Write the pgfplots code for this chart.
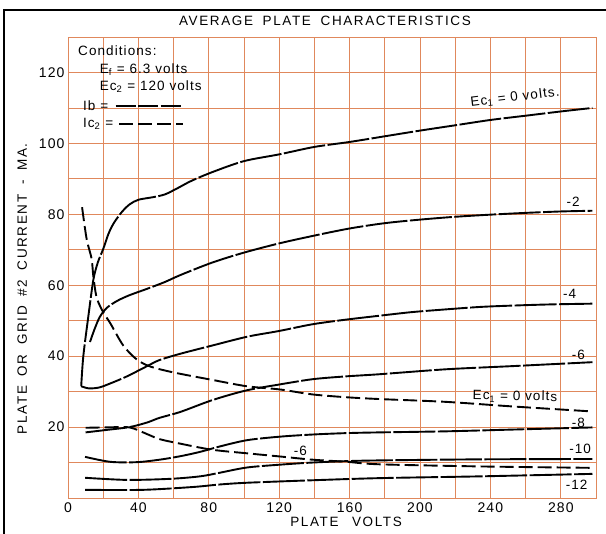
\documentclass[border=0pt]{standalone}
\usepackage{fontspec}
\setmainfont{Liberation Sans}
\newfontfamily\lett[LetterSpace=8]{Liberation Sans}
\newfontfamily\wide[LetterSpace=12,WordSpace=1.8]{Liberation Sans}
\usepackage{pgfplots}
\pgfplotsset{compat=1.18}
\definecolor{gridor}{RGB}{224,136,92}

\pgfplotstableread{
x y
7.5 31.5
8.7 40
11.5 51
14.4 61.5
17 66.5
20 70.2
23 74.5
26 77.5
30.5 80.6
35 82.8
40 84.1
48 84.8
55 85.6
62 87.3
70 89.4
82 91.9
100 95
120 96.9
140 99
160 100.4
180 102
200 103.6
220 105.1
240 106.6
260 107.8
280 109
298 110
}\ibzero

\pgfplotstableread{
x y
12.5 44
15 47.5
18 51
22 53.6
28 55.6
35 57.2
45 59
55 60.9
64 62.9
82 66.4
100 69.2
120 71.8
140 74
160 76
180 77.5
200 78.5
220 79.3
240 79.9
260 80.4
280 80.8
298 81
}\ibtwo

\pgfplotstableread{
x y
7.5 31.5
12 30.9
18 31.2
25 32.5
33.5 34.3
45 37.2
52 38.9
64 40.7
82 43
102 45.5
120 47.1
139 49
158 50.3
177 51.4
195 52.4
215 53.2
235 53.9
255 54.3
275 54.6
298 54.8
}\ibfour

\pgfplotstableread{
x y
10 18.5
22 19.2
35 20
45 21.3
52 22.6
64 24.3
82 27.6
101 30.3
120 32
139 33.5
158 34.3
177 34.9
215 36.3
253 37.2
298 38.3
}\ibsix

\pgfplotstableread{
x y
9.7 11.6
24 10.2
39 10.1
52 10.8
64 11.8
75 13
86 14.5
101.7 16.3
120.5 17.3
139 17.9
158.5 18.3
177 18.5
215 18.8
253 19.3
298 19.9
}\ibeight

\pgfplotstableread{
x y
9.7 5.7
33.5 5.1
58 5.4
75 6.1
86 7.1
101.7 8.6
120.5 9.4
139 10
158.5 10.4
177 10.6
234 10.9
298 11
}\ibten

\pgfplotstableread{
x y
9.7 2.3
42.6 2.3
71 3.1
86 3.8
101.7 4.3
139 5
177 5.6
234 6.1
298 6.8
}\ibtwelve

\pgfplotstableread{
x y
8 82
10.6 73
13.4 67.5
14.4 62.5
16.3 56.5
20 52.4
24 49.3
31.4 43
39 39.1
46.6 37.1
60 35.4
82 33.3
101.7 31.5
120.5 30.6
139 29.2
158.5 28.4
177 27.9
215 27.1
253 25.8
298 24.4
}\iczero

\pgfplotstableread{
x y
10 19.8
22 19.9
35 19.9
45 18
52 16.6
64 15.3
82 13.6
101.7 12.6
120.5 11.7
139 10.8
158.5 10.2
177 9.5
234 8.9
298 8.5
}\icsix

\begin{document}
\begin{tikzpicture}
\useasboundingbox (-68pt,-36pt) rectangle (538pt,498pt);
\draw[black, line width=1.2pt] (-64pt,-36pt) -- (-64pt,488pt) -- (538pt,488pt);
\begin{axis}[
  scale only axis, width=528pt, height=461pt,
  at={(0pt,0pt)}, anchor=south west,
  xmin=0, xmax=300, ymin=0, ymax=130,
  xtick={0,40,...,280}, ytick={20,40,...,120},
  minor xtick={20,60,...,300}, minor ytick={10,30,...,130},
  grid=both,
  major grid style={gridor, line width=0.8pt},
  minor grid style={gridor, line width=0.8pt},
  axis line style={gridor, line width=0.9pt},
  major tick length=0pt, minor tick length=0pt,
  /pgf/number format/assume math mode=true,
  ticklabel style={font=\lett\fontsize{14}{16}\selectfont},
  xticklabel style={yshift=-1pt},
  clip=false,
  ib/.style={black, line width=1.9pt, smooth, tension=0.5, no marks, dash pattern=on 42pt off 2.5pt},
  ic/.style={black, line width=1.9pt, smooth, tension=0.5, no marks, dash pattern=on 14pt off 5pt},
]
\addplot[ib] table {\ibzero};
\addplot[ib] table {\ibtwo};
\addplot[ib] table {\ibfour};
\addplot[ib] table {\ibsix};
\addplot[ib] table {\ibeight};
\addplot[ib] table {\ibten};
\addplot[ib] table {\ibtwelve};
\addplot[ic] table {\iczero};
\addplot[ic] table {\icsix};

% title and axis labels
\node[font=\wide\fontsize{13.5}{15}\selectfont] at (axis cs:146,134.5) {AVERAGE PLATE CHARACTERISTICS};
\node[font=\wide\fontsize{13.5}{15}\selectfont, rotate=90] at (axis cs:-26,59) {PLATE OR GRID \#2 CURRENT - MA.};
\node[font=\wide\fontsize{13.5}{15}\selectfont] at (axis cs:158,-6.8) {PLATE\hspace{1em}VOLTS};

% conditions box
\begin{scope}[every node/.style={font=\lett\fontsize{13.5}{15}\selectfont, anchor=west, inner sep=0pt}]
\node at (axis cs:5.7,126.2) {Conditions:};
\node at (axis cs:18,120.8) {E\textsubscript{f} = 6.3 volts};
\node at (axis cs:18,116) {Ec\textsubscript{2} = 120 volts};
\node at (axis cs:8.5,110.6) {Ib =};
\node at (axis cs:8.5,105.5) {Ic\textsubscript{2} =};
\end{scope}
\draw[black, line width=1.9pt, dash pattern=on 20pt off 2.5pt] (axis cs:27,110.6) -- (axis cs:64,110.6);
\draw[black, line width=1.9pt, dash pattern=on 14pt off 5pt] (axis cs:29,105.5) -- (axis cs:65.3,105.5);

% curve labels
\begin{scope}[every node/.style={font=\lett\fontsize{13.5}{15}\selectfont, inner sep=0pt}]
\node[rotate=7] at (axis cs:254,113) {Ec\textsubscript{1} = 0 volts.};
\node at (axis cs:287,83.6) {-2};
\node at (axis cs:285,57.6) {-4};
\node at (axis cs:290,40.4) {-6};
\node[rotate=-1] at (axis cs:254,28.6) {Ec\textsubscript{1} = 0 volts};
\node at (axis cs:290,21.2) {-8};
\node at (axis cs:291,13.8) {-10};
\node at (axis cs:289,3.6) {-12};
\node at (axis cs:132,13.4) {-6};
\end{scope}
\end{axis}
\end{tikzpicture}
\end{document}
